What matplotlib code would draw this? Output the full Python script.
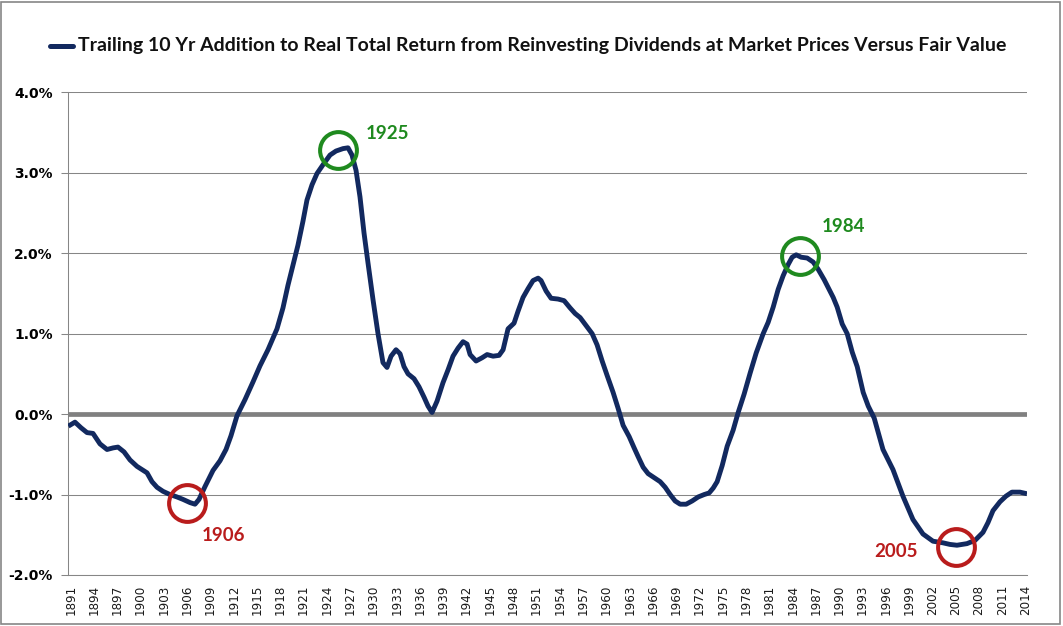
import matplotlib
matplotlib.use("Agg")
import matplotlib.pyplot as plt
from matplotlib.lines import Line2D
from matplotlib.patches import Rectangle

# values (year, % addition to real total return)
years = [
    1890.69, 1891.55, 1892.33, 1893.1, 1893.87, 1894.77, 1895.68, 1896.46, 1897.09, 1897.87,
    1898.64, 1899.54, 1900.18, 1900.83, 1901.47, 1902.12, 1902.89, 1903.79, 1904.69, 1905.46,
    1906.37, 1907.01, 1907.53, 1908.3, 1909.33, 1910.23, 1911.0, 1911.64, 1912.42, 1913.45,
    1914.48, 1915.38, 1916.41, 1917.57, 1918.34, 1918.98, 1919.63, 1920.27, 1920.92, 1921.43,
    1922.08, 1922.72, 1923.5, 1924.4, 1925.17, 1926.07, 1926.72, 1927.23, 1927.75, 1928.26,
    1928.78, 1929.29, 1929.94, 1930.58, 1931.22, 1931.74, 1932.26, 1932.9, 1933.42, 1933.93,
    1934.45, 1935.22, 1935.86, 1936.51, 1937.02, 1937.54, 1938.18, 1938.95, 1939.6, 1940.24,
    1940.89, 1941.53, 1942.05, 1942.44, 1943.21, 1943.98, 1944.63, 1945.4, 1946.17, 1946.69,
    1947.33, 1948.1, 1948.62, 1949.26, 1949.91, 1950.55, 1951.2, 1951.58, 1952.23, 1952.87,
    1953.77, 1954.55, 1955.32, 1955.97, 1956.61, 1957.38, 1958.16, 1958.8, 1959.45, 1960.09,
    1960.86, 1961.51, 1962.15, 1962.93, 1963.57, 1964.09, 1964.73, 1965.37, 1966.15, 1966.92,
    1967.57, 1968.21, 1968.85, 1969.5, 1970.27, 1971.04, 1971.82, 1972.59, 1973.23, 1973.75,
    1974.26, 1974.91, 1975.55, 1976.32, 1976.97, 1977.74, 1978.51, 1979.29, 1980.19, 1980.83,
    1981.48, 1982.12, 1982.76, 1983.41, 1983.92, 1984.44, 1985.08, 1985.86, 1986.63, 1987.27,
    1988.05, 1988.69, 1989.21, 1989.72, 1990.37, 1991.01, 1991.66, 1992.3, 1993.07, 1993.72,
    1994.49, 1995.62, 1996.91, 1998.19, 1999.48, 2000.77, 2002.06, 2003.34, 2004.25, 2005.15,
    2006.44, 2007.47, 2008.5, 2009.14, 2009.79, 2010.69, 2011.46, 2012.23, 2013.26, 2014.17,
]
values = [
    -0.15, -0.10, -0.17, -0.23, -0.24, -0.37, -0.44, -0.42, -0.41, -0.47,
    -0.57, -0.65, -0.69, -0.73, -0.84, -0.91, -0.96, -1.00, -1.03, -1.06,
    -1.10, -1.12, -1.06, -0.90, -0.70, -0.58, -0.44, -0.27, -0.02, 0.18,
    0.40, 0.60, 0.80, 1.06, 1.32, 1.60, 1.85, 2.10, 2.40, 2.66,
    2.85, 2.99, 3.10, 3.22, 3.27, 3.30, 3.31, 3.22, 3.03, 2.70,
    2.25, 1.88, 1.42, 1.00, 0.64, 0.58, 0.72, 0.80, 0.75, 0.59,
    0.50, 0.44, 0.34, 0.21, 0.10, 0.02, 0.16, 0.39, 0.55, 0.72,
    0.82, 0.90, 0.87, 0.74, 0.66, 0.70, 0.74, 0.72, 0.73, 0.80,
    1.06, 1.13, 1.28, 1.45, 1.56, 1.66, 1.69, 1.66, 1.53, 1.44,
    1.43, 1.41, 1.32, 1.25, 1.20, 1.10, 1.00, 0.86, 0.66, 0.48,
    0.27, 0.07, -0.14, -0.28, -0.42, -0.53, -0.66, -0.74, -0.79, -0.84,
    -0.91, -1.00, -1.08, -1.12, -1.12, -1.08, -1.03, -1.00, -0.98, -0.92,
    -0.84, -0.64, -0.40, -0.20, 0.02, 0.25, 0.51, 0.76, 1.00, 1.14,
    1.33, 1.55, 1.72, 1.86, 1.95, 1.98, 1.95, 1.94, 1.89, 1.80,
    1.67, 1.55, 1.45, 1.33, 1.12, 1.00, 0.77, 0.59, 0.27, 0.10,
    -0.05, -0.44, -0.69, -1.02, -1.31, -1.49, -1.58, -1.60, -1.62, -1.63,
    -1.61, -1.57, -1.47, -1.35, -1.20, -1.09, -1.02, -0.97, -0.97, -0.99,
]

tick_years = list(range(1891, 2015, 3))
y_ticks = [-2, -1, 0, 1, 2, 3, 4]

# highlighted turning points
mark_labels = ["1925", "1984", "1906", "2005"]
mark_x = [1925.43, 1984.96, 1905.94, 2005.03]
mark_y = [3.28, 1.965, -1.11, -1.656]
mark_colors = ["#1f8a1f", "#1f8a1f", "#b91c1c", "#b91c1c"]
mark_offsets = [(20, 12), (15.6, 21.6), (10.8, -22.8), (-27.9, -3.2)]
mark_ha = ["left", "left", "left", "right"]

title = ("Trailing 10 Yr Addition to Real Total Return from Reinvesting "
         "Dividends at Market Prices Versus Fair Value")

NAVY = "#12295f"
GRID = "#868686"

W, H = 1063, 626
fig = plt.figure(figsize=(W / 100, H / 100), dpi=100)
ax = fig.add_axes([68.3 / W, 1 - 575 / H, (1027 - 68.3) / W, (575 - 92.3) / H])

ax.plot(years, values, color=NAVY, lw=3.5, solid_joinstyle="round",
        solid_capstyle="butt", zorder=4)
ax.axhline(0, color="#808080", lw=3.4, zorder=3)

ax.set_xlim(1890.69, 2014.17)
ax.set_ylim(-2, 4)
ax.set_yticks(y_ticks)
ax.set_yticklabels([f"{v:.1f}%" for v in y_ticks], fontweight="bold",
                   fontsize=10, family="DejaVu Sans")
ax.set_xticks(tick_years)
ax.set_xticklabels([str(y) for y in tick_years], rotation=90, fontsize=8.6,
                   family="DejaVu Sans", color="#1a1a1a")
ax.tick_params(axis="x", length=0, pad=7)
ax.tick_params(axis="y", length=4.75, width=0.75, color=GRID, pad=6.5)
ax.grid(axis="y", color=GRID, lw=0.75)
ax.set_axisbelow(True)
for side in ("top", "right"):
    ax.spines[side].set_visible(False)
for side in ("left", "bottom"):
    ax.spines[side].set_color(GRID)
    ax.spines[side].set_linewidth(0.75)

for lab, x, y, c, off, ha in zip(mark_labels, mark_x, mark_y, mark_colors,
                                 mark_offsets, mark_ha):
    ax.plot([x], [y], "o", ms=26.5, mfc="none", mec=c, mew=2.9, zorder=5,
            clip_on=False)
    ax.annotate(lab, (x, y), xytext=off, textcoords="offset points",
                ha=ha, va="center", color=c, fontsize=13.5, fontweight="bold",
                family="Lato")

# legend-style title
fig.add_artist(Line2D([50 / W, 73 / W], [1 - 45.5 / H] * 2, color=NAVY,
                      lw=3.6, solid_capstyle="round"))
t = fig.text(78 / W, 1 - 46 / H, title, ha="left", va="center",
             fontsize=12, fontweight="bold", family="Lato", color="#111111")
fig.canvas.draw()
bb = t.get_window_extent()
t.set_fontsize(12 * 920 / bb.width)

# chart border
fig.patches.append(Rectangle((1 / W, 2 / H), 1059 / W, 622 / H,
                             transform=fig.transFigure, fill=False,
                             ec=GRID, lw=1.2))

fig.savefig("out.png", dpi=100)
plt.close(fig)
